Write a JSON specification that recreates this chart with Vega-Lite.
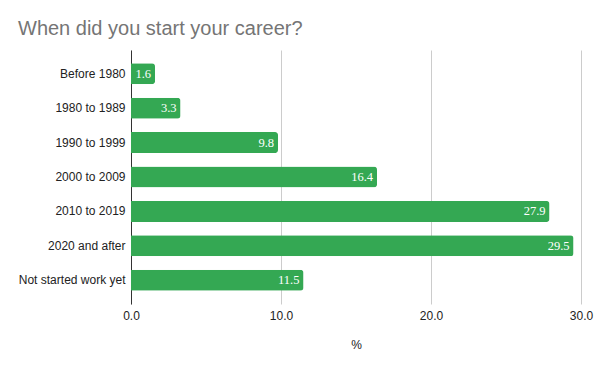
{
  "$schema": "https://vega.github.io/schema/vega-lite/v6.json",
  "autosize": {"type": "none"},
  "width": 450,
  "height": 254,
  "padding": {"left": 131, "top": 50, "right": 19, "bottom": 67},
  "background": "white",
  "title": {
    "text": "When did you start your career?",
    "anchor": "start",
    "frame": "group",
    "dx": -113,
    "offset": 11,
    "font": "Liberation Sans",
    "fontSize": 20,
    "fontWeight": "normal",
    "color": "#757575"
  },
  "data": {
    "values": [
      {"period": "Before 1980", "pct": 1.6},
      {"period": "1980 to 1989", "pct": 3.3},
      {"period": "1990 to 1999", "pct": 9.8},
      {"period": "2000 to 2009", "pct": 16.4},
      {"period": "2010 to 2019", "pct": 27.9},
      {"period": "2020 and after", "pct": 29.5},
      {"period": "Not started work yet", "pct": 11.5}
    ]
  },
  "config": {
    "view": {"stroke": null},
    "font": "Liberation Sans"
  },
  "encoding": {
    "y": {
      "field": "period",
      "type": "nominal",
      "sort": null,
      "scale": {"paddingInner": 0.39, "paddingOuter": 0.385},
      "axis": {
        "title": null,
        "ticks": false,
        "domain": true,
        "domainColor": "#333333",
        "labelFont": "Liberation Sans",
        "labelFontSize": 12,
        "labelColor": "#222222",
        "labelPadding": 6
      }
    },
    "x": {
      "field": "pct",
      "type": "quantitative",
      "scale": {"domain": [0, 30], "nice": false},
      "axis": {
        "title": "%",
        "titleFont": "Liberation Sans",
        "titleFontSize": 12,
        "titleFontWeight": "normal",
        "titleColor": "#222222",
        "titlePadding": 18,
        "values": [0, 10, 20, 30],
        "format": ".1f",
        "labelFlush": false,
        "labelFont": "Liberation Sans",
        "labelFontSize": 12,
        "labelColor": "#222222",
        "labelPadding": 6,
        "ticks": false,
        "domain": false,
        "grid": true,
        "gridColor": "#cccccc"
      }
    }
  },
  "layer": [
    {
      "mark": {"type": "bar", "color": "#34A853", "cornerRadiusEnd": 3}
    },
    {
      "mark": {
        "type": "text",
        "align": "right",
        "baseline": "middle",
        "dx": -4,
        "color": "white",
        "font": "Liberation Serif",
        "fontSize": 12.5
      },
      "encoding": {
        "text": {"field": "pct", "type": "quantitative", "format": ".1f"}
      }
    }
  ]
}
